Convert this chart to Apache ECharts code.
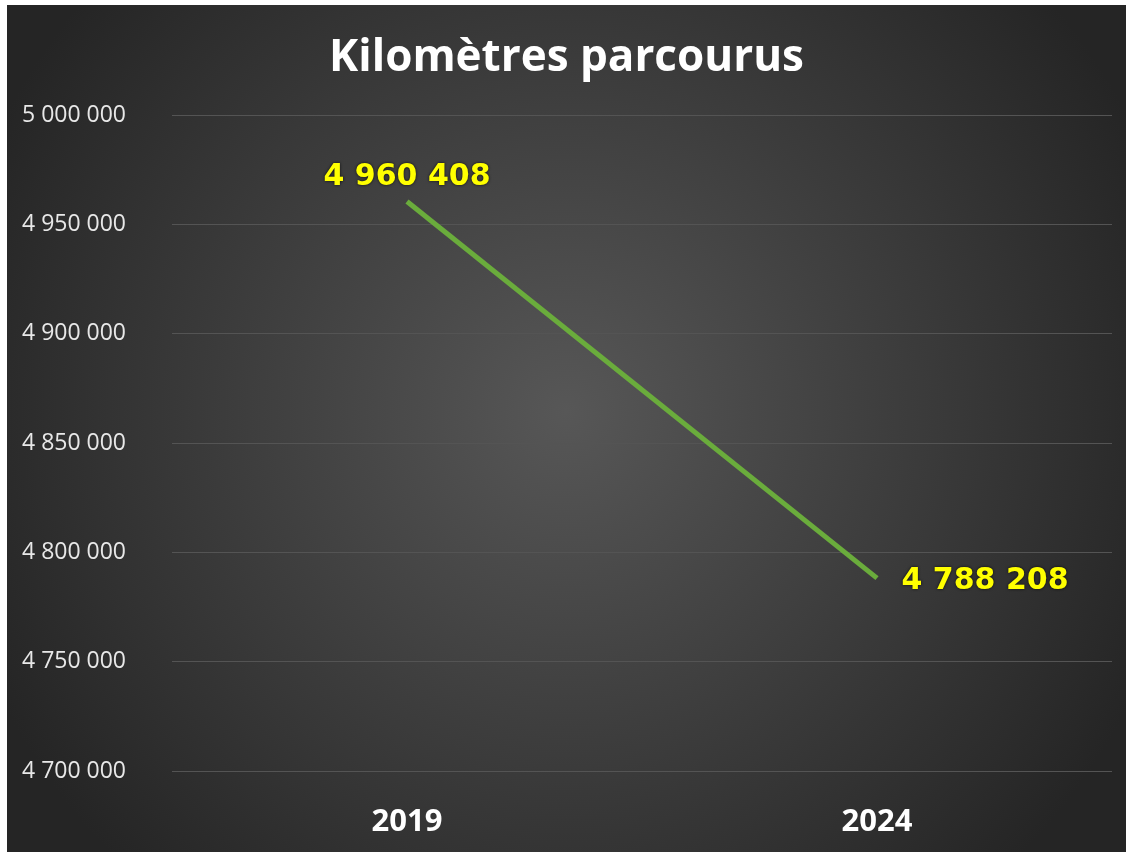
<!DOCTYPE html>
<html>
<head>
<meta charset="utf-8">
<script src="https://cdn.jsdelivr.net/npm/echarts@6/dist/echarts.min.js"></script>
<style>
  html, body { margin: 0; padding: 0; background: #ffffff; }
  #main { position: absolute; left: 7px; top: 5px; width: 1119px; height: 847px; }
</style>
</head>
<body>
<div id="main"></div>
<script>
const years = ['2019', '2024'];
const km = [4960408, 4788208];
const yTicks = [4700000, 4750000, 4800000, 4850000, 4900000, 4950000, 5000000];

function fmt(v) {
    return String(v).replace(/\B(?=(\d{3})+(?!\d))/g, ' ');
}

const chart = echarts.init(document.getElementById('main'));
const option = {
    backgroundColor: {
        type: 'radial', x: 0.5, y: 0.48, r: 0.75,
        colorStops: [
            { offset: 0, color: '#575757' },
            { offset: 1, color: '#252525' }
        ]
    },
    title: {
        text: 'Kilomètres parcourus',
        left: 'center',
        top: 26,
        textStyle: { color: '#ffffff', fontFamily: 'Open Sans', fontWeight: 'bold', fontSize: 44 }
    },
    grid: { left: 165, right: 14, top: 110, bottom: 81 },
    xAxis: {
        type: 'category',
        data: years,
        boundaryGap: true,
        axisLine: { show: false },
        axisTick: { show: false },
        axisLabel: { color: '#ffffff', fontFamily: 'Open Sans', fontWeight: 'bold', fontSize: 31, margin: 36 }
    },
    yAxis: {
        type: 'value',
        min: yTicks[0],
        max: yTicks[yTicks.length - 1],
        interval: 50000,
        axisLine: { show: false },
        axisTick: { show: false },
        splitLine: { lineStyle: { color: '#545454', width: 1 } },
        axisLabel: {
            color: '#e8e8e8', fontFamily: 'Open Sans', fontSize: 23,
            align: 'left', margin: 150,
            formatter: v => fmt(v)
        }
    },
    series: [{
        type: 'line',
        symbol: 'circle',
        symbolSize: 1,
        showSymbol: true,
        itemStyle: { color: 'rgba(0,0,0,0)' },
        lineStyle: { color: '#6aac3c', width: 5 },
        label: {
            show: true,
            color: '#ffff00',
            fontFamily: 'DejaVu Sans',
            fontWeight: 'bold',
            fontSize: 30,
            textShadowColor: 'rgba(0,0,0,0.8)',
            textShadowBlur: 3,
            formatter: p => fmt(p.value)
        },
        data: km.map((v, i) => ({
            value: v,
            label: i === 0 ? { position: 'top', distance: 9 } : { position: 'right', distance: 24, offset: [0, 3] }
        }))
    }]
};
chart.setOption(option);
</script>
</body>
</html>
